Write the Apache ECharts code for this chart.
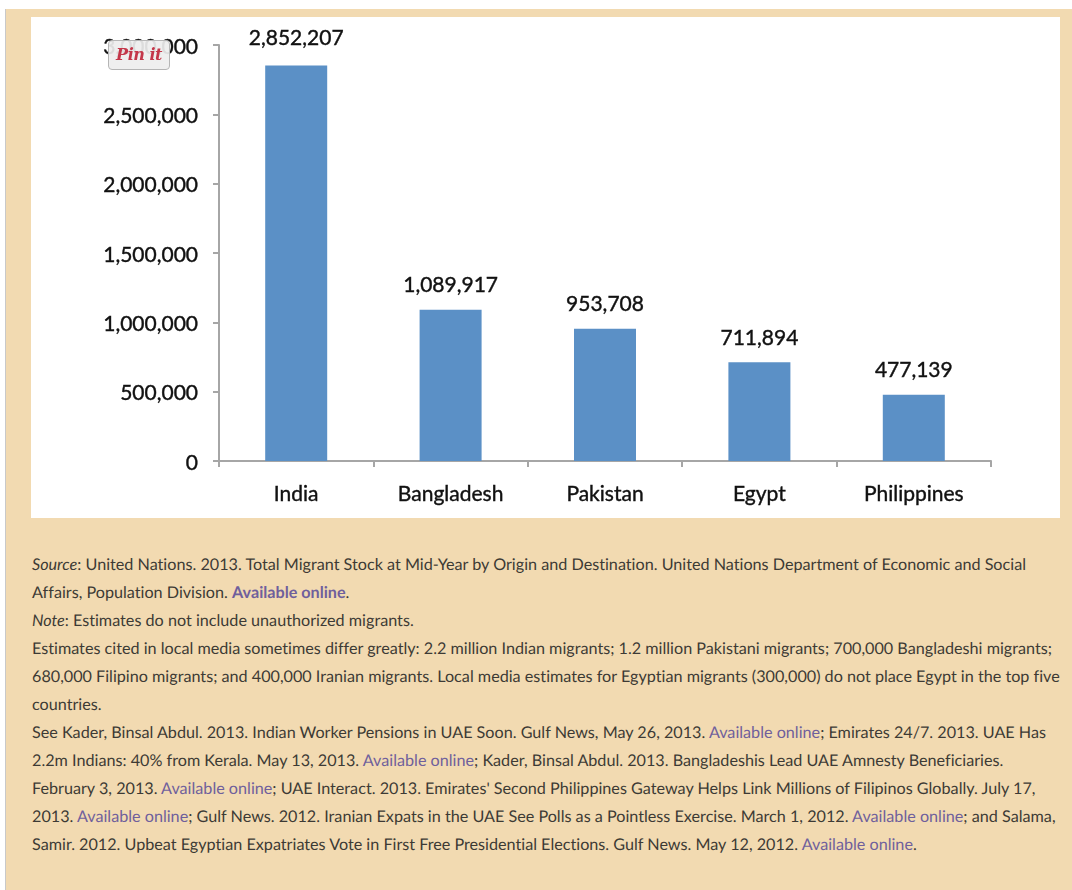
<!DOCTYPE html>
<html>
<head>
<meta charset="utf-8">
<title>Migrants in the UAE</title>
<script src="https://cdn.jsdelivr.net/npm/echarts@6/dist/echarts.min.js"></script>
<style>
    html, body { margin: 0; padding: 0; background: #fff; overflow: hidden; }
    #page { position: absolute; left: 5px; top: 9px; width: 1067px; height: 881px; background: #f2dab1; border-left: 1px solid #c9c9c9; box-sizing: border-box; }
    #SourceChart { position: absolute; left: 31px; top: 17px; width: 1029px; height: 501px; background: #fff; }
    #notes { position: absolute; left: 32px; top: 551px; font-family: Lato, sans-serif; font-size: 16.18px; font-variant-ligatures: none; text-rendering: geometricPrecision; line-height: 28px; color: #3d3a35; white-space: nowrap; }
    #notes a { color: #6f5f9c; text-decoration: none; }
    #pinit { position: absolute; left: 108px; top: 40px; width: 62px; height: 30px; box-sizing: border-box; border: 1px solid #b5b5b5; border-radius: 4px; background: rgba(238,238,238,0.92); color: #c4374a; font-family: "DejaVu Serif", serif; font-style: italic; font-weight: bold; font-size: 16px; letter-spacing: -0.5px; line-height: 27px; text-align: center; }
</style>
</head>
<body>
<div id="page"></div>
<div id="SourceChart"></div>
<div id="notes"></div>
<div id="pinit">Pin it</div>
<script>
var countries = ['India', 'Bangladesh', 'Pakistan', 'Egypt', 'Philippines'];
var migrants = [2852207, 1089917, 953708, 711894, 477139];
var yTicks = {min: 0, max: 3000000, interval: 500000};

// {i}..{/i} 斜体, {a}..{/a} 链接
var noteLines = [
    "{i}Source{/i}: United Nations. 2013. Total Migrant Stock at Mid-Year by Origin and Destination. United Nations Department of Economic and Social",
    "Affairs, Population Division. {a}<b>Available online</b>{/a}.",
    "{i}Note{/i}: Estimates do not include unauthorized migrants.",
    "Estimates cited in local media sometimes differ greatly: 2.2 million Indian migrants; 1.2 million Pakistani migrants; 700,000 Bangladeshi migrants;",
    "680,000 Filipino migrants; and 400,000 Iranian migrants. Local media estimates for Egyptian migrants (300,000) do not place Egypt in the top five",
    "countries.",
    "See Kader, Binsal Abdul. 2013. Indian Worker Pensions in UAE Soon. Gulf News, May 26, 2013. {a}Available online{/a}; Emirates 24/7. 2013. UAE Has",
    "2.2m Indians: 40% from Kerala. May 13, 2013. {a}Available online{/a}; Kader, Binsal Abdul. 2013. Bangladeshis Lead UAE Amnesty Beneficiaries.",
    "February 3, 2013. {a}Available online{/a}; UAE Interact. 2013. Emirates' Second Philippines Gateway Helps Link Millions of Filipinos Globally. July 17,",
    "2013. {a}Available online{/a}; Gulf News. 2012. Iranian Expats in the UAE See Polls as a Pointless Exercise. March 1, 2012. {a}Available online{/a}; and Salama,",
    "Samir. 2012. Upbeat Egyptian Expatriates Vote in First Free Presidential Elections. Gulf News. May 12, 2012. {a}Available online{/a}."
];

var notes = document.getElementById('notes');
notes.innerHTML = noteLines.map(function (line) {
    return '<div>' + line
        .replace(/\{i\}/g, '<i>').replace(/\{\/i\}/g, '</i>')
        .replace(/\{a\}/g, '<a>').replace(/\{\/a\}/g, '</a>') + '</div>';
}).join('');

function fmt(v) {
    return Number(v).toLocaleString('en-US');
}

var chart = echarts.init(document.getElementById('SourceChart'), null, {renderer: 'canvas'});
var axisColor = '#a6a6a6';
var textFont = 'Lato, sans-serif';
var textStyle = {color: '#111', fontFamily: textFont, fontSize: 21, textBorderColor: '#111', textBorderWidth: 0.4};

chart.setOption({
    animation: false,
    grid: {left: 188, top: 28, width: 772, height: 416},
    xAxis: {
        type: 'category',
        data: countries,
        axisLine: {lineStyle: {color: axisColor, width: 2}},
        axisTick: {show: true, alignWithLabel: false, length: 6, lineStyle: {color: axisColor, width: 2}},
        axisLabel: Object.assign({margin: 23}, textStyle)
    },
    yAxis: {
        type: 'value',
        min: yTicks.min,
        max: yTicks.max,
        interval: yTicks.interval,
        splitLine: {show: false},
        axisLine: {show: true, lineStyle: {color: axisColor, width: 2}},
        axisTick: {show: true, length: 6, lineStyle: {color: axisColor, width: 2}},
        axisLabel: {
            margin: 21,
            formatter: function (v) { return '{t|' + fmt(v) + '}'; },
            rich: {t: Object.assign({padding: [4, 0, 0, 0]}, textStyle)}
        }
    },
    series: [
        {
            name: 'Migrants',
            type: 'bar',
            // 印度的标签比其他柱子略高
            data: migrants.map(function (v, i) {
                return i === 0 ? {value: v, label: {distance: 17}} : v;
            }),
            barWidth: 62,
            itemStyle: {color: '#5b90c6'},
            label: Object.assign({
                show: true,
                position: 'top',
                distance: 14,
                formatter: function (p) { return fmt(p.value); }
            }, textStyle)
        }
    ]
});
</script>
</body>
</html>
